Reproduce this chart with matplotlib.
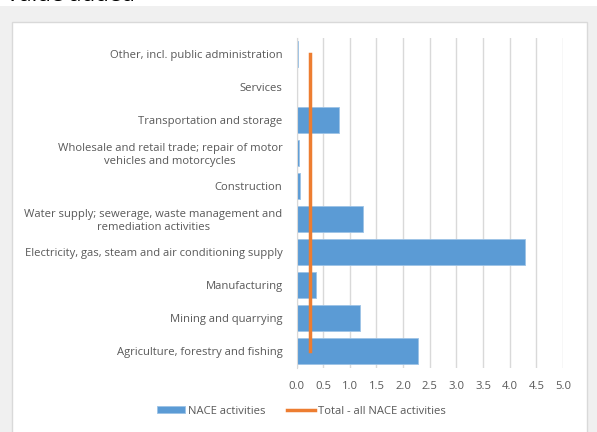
import matplotlib.pyplot as plt
from matplotlib.patches import Rectangle

categories = [
    "Agriculture, forestry and fishing",
    "Mining and quarrying",
    "Manufacturing",
    "Electricity, gas, steam and air conditioning supply",
    "Water supply; sewerage, waste management and\nremediation activities",
    "Construction",
    "Wholesale and retail trade; repair of motor\nvehicles and motorcycles",
    "Transportation and storage",
    "Services",
    "Other, incl. public administration",
]
nace_values = [2.28, 1.19, 0.37, 4.28, 1.25, 0.07, 0.05, 0.79, 0.0, 0.02]
total_value = [0.25] * len(categories)
x_ticks = [0.0, 0.5, 1.0, 1.5, 2.0, 2.5, 3.0, 3.5, 4.0, 4.5, 5.0]

text_col = "#595959"
plt.rcParams["font.family"] = ["Open Sans", "DejaVu Sans"]

fig = plt.figure(figsize=(5.97, 4.32), dpi=100)
fig.patch.set_facecolor("white")

# grey frame and white chart box
fig.patches.append(Rectangle((0, 0), 1, 1 - 6 / 432, transform=fig.transFigure,
                             facecolor="#f0f0f0", edgecolor="none", zorder=0))
fig.patches.append(Rectangle((12 / 597, -0.01), (587 - 12) / 597, 1 - 22 / 432 + 0.01,
                             transform=fig.transFigure, facecolor="white",
                             edgecolor="#d9d9d9", linewidth=1, zorder=1))
fig.text(0.01, 1.0 + 0.035, "Value added", fontsize=16, color="black",
         va="top", ha="left")

ax = fig.add_axes([296.5 / 597, 1 - 367.5 / 432, (563 - 296.5) / 597, (367.5 - 37.5) / 432])
ax.set_facecolor("none")
ax.set_zorder(2)

pos = list(range(len(categories)))
bars = ax.barh(pos, nace_values, height=0.78, color="#5b9bd5", edgecolor="#9dc3e6",
               linewidth=0.6, label="NACE activities", zorder=2)
line, = ax.plot(total_value, pos, color="#ed7d31", linewidth=2.5,
                label="Total - all NACE activities", zorder=3)

ax.set_xlim(0, 5)
ax.set_ylim(-0.5, len(categories) - 0.5)
ax.set_xticks(x_ticks)
ax.set_xticklabels([f"{t:.1f}" for t in x_ticks])
ax.set_yticks(pos)
ax.set_yticklabels(categories, multialignment="center")
ax.tick_params(axis="both", length=0, labelsize=8.1, colors=text_col)
ax.tick_params(axis="x", pad=10)
ax.tick_params(axis="y", pad=10)
ax.grid(axis="x", color="#d9d9d9", linewidth=1)
ax.set_axisbelow(True)
for s in ["top", "right", "bottom"]:
    ax.spines[s].set_visible(False)
ax.spines["left"].set_color("#d9d9d9")

fig.legend([bars, line], ["NACE activities", "Total - all NACE activities"],
           loc="center", bbox_to_anchor=(0.505, 1 - 411 / 432), ncol=2,
           frameon=False, fontsize=8.1, labelcolor=text_col,
           handlelength=2.5, handleheight=0.5, handletextpad=0.3, columnspacing=1.9)

fig.savefig("out.png", dpi=100)
